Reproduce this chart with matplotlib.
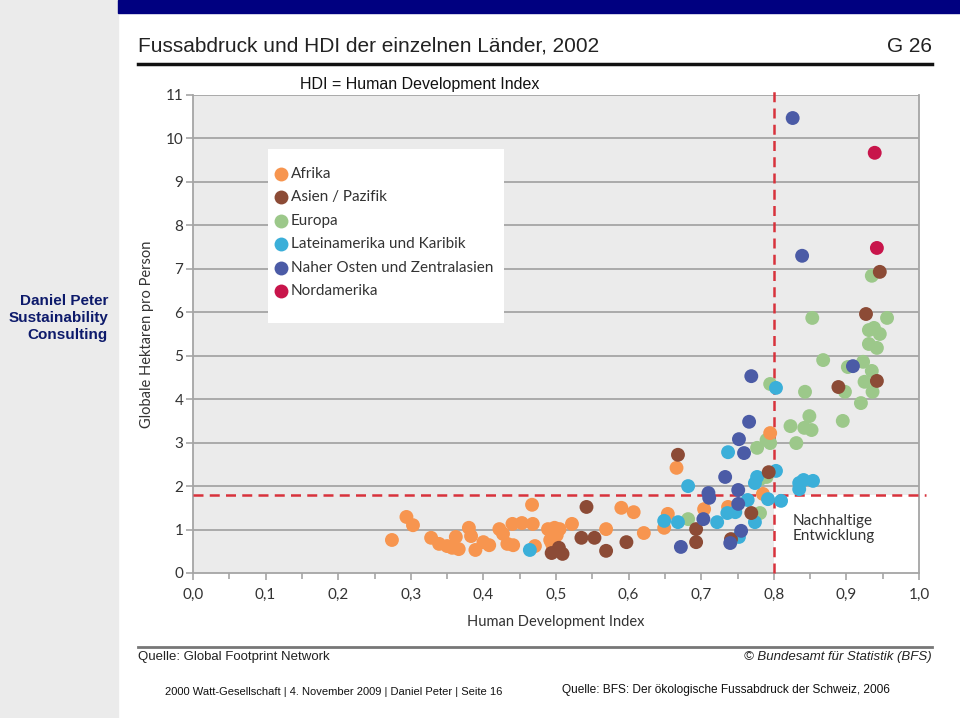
import matplotlib
matplotlib.use("Agg")
from matplotlib import pyplot as plt
from matplotlib.patches import Rectangle
from matplotlib.lines import Line2D

# HDI (x) und Fussabdruck in globalen Hektaren pro Person (y), je Region
afrika_hdi = [0.274, 0.294, 0.303, 0.328, 0.339, 0.350, 0.357, 0.362, 0.366, 0.380,
              0.383, 0.389, 0.400, 0.408, 0.422, 0.427, 0.433, 0.440, 0.441, 0.453,
              0.467, 0.468, 0.471, 0.489, 0.492, 0.496, 0.498, 0.501, 0.505, 0.494,
              0.522, 0.569, 0.590, 0.607, 0.621, 0.649, 0.654, 0.666, 0.704, 0.737,
              0.785, 0.795]
afrika_fp = [0.76, 1.29, 1.10, 0.81, 0.67, 0.62, 0.58, 0.83, 0.55, 1.04,
             0.85, 0.53, 0.71, 0.64, 1.01, 0.90, 0.67, 1.13, 0.64, 1.15,
             1.57, 1.13, 0.62, 1.01, 0.76, 0.58, 1.04, 0.87, 1.01, 0.69,
             1.13, 1.01, 1.50, 1.40, 0.92, 1.04, 1.36, 2.42, 1.47, 1.52,
             1.82, 3.22]

asien_hdi = [0.494, 0.504, 0.509, 0.542, 0.535, 0.553, 0.569, 0.597, 0.668, 0.693,
             0.693, 0.741, 0.769, 0.793, 0.889, 0.942, 0.927, 0.946]
asien_fp = [0.46, 0.58, 0.44, 1.52, 0.81, 0.81, 0.51, 0.71, 2.72, 1.01,
            0.71, 0.78, 1.38, 2.32, 4.28, 4.42, 5.96, 6.93]

europa_hdi = [0.682, 0.781, 0.781, 0.790, 0.777, 0.790, 0.795, 0.795, 0.831, 0.823,
              0.842, 0.852, 0.849, 0.843, 0.895, 0.920, 0.902, 0.923, 0.925, 0.935,
              0.936, 0.898, 0.868, 0.931, 0.942, 0.931, 0.938, 0.946, 0.853, 0.956,
              0.935]
europa_fp = [1.24, 1.38, 2.16, 2.21, 2.88, 3.06, 2.99, 4.35, 2.99, 3.38,
             3.34, 3.29, 3.61, 4.17, 3.50, 3.91, 4.74, 4.86, 4.40, 4.65,
             4.17, 4.17, 4.90, 5.27, 5.18, 5.59, 5.64, 5.50, 5.87, 5.87,
             6.84]

latein_hdi = [0.464, 0.649, 0.668, 0.682, 0.722, 0.736, 0.747, 0.752, 0.737, 0.764,
              0.774, 0.774, 0.777, 0.792, 0.803, 0.810, 0.803, 0.835, 0.841, 0.854,
              0.835]
latein_fp = [0.53, 1.20, 1.17, 2.00, 1.17, 1.38, 1.40, 0.83, 2.78, 1.68,
             2.07, 1.17, 2.21, 1.70, 2.35, 1.66, 4.26, 2.07, 2.14, 2.12,
             1.93]

nahost_hdi = [0.672, 0.703, 0.710, 0.711, 0.733, 0.740, 0.751, 0.751, 0.755, 0.752,
              0.759, 0.766, 0.769, 0.839, 0.826, 0.909]
nahost_fp = [0.60, 1.24, 1.84, 1.73, 2.21, 0.69, 1.91, 1.59, 0.97, 3.08,
             2.76, 3.48, 4.53, 7.30, 10.47, 4.76]

nordam_hdi = [0.939, 0.942]
nordam_fp = [9.67, 7.48]

regionen = ["Afrika", "Asien / Pazifik", "Europa", "Lateinamerika und Karibik",
            "Naher Osten und Zentralasien", "Nordamerika"]
farben = ["#f7954f", "#8c4b36", "#9cc88a", "#3bafd9", "#4b5ba6", "#c8154b"]

x_ticks = [0.0, 0.1, 0.2, 0.3, 0.4, 0.5, 0.6, 0.7, 0.8, 0.9, 1.0]
x_labels = ["0,0", "0,1", "0,2", "0,3", "0,4", "0,5", "0,6", "0,7", "0,8", "0,9", "1,0"]
y_ticks = list(range(0, 12))
hdi_grenze = 0.8
fp_grenze = 1.8

W, H = 960, 718


def fx(px):
    return px / W


def fy(py):
    return 1 - py / H


arial = ["Liberation Sans", "DejaVu Sans"]
chart_font = ["Lato", "DejaVu Sans"]

fig = plt.figure(figsize=(9.6, 7.18), dpi=100)

# Folien-Rahmen
fig.patches.append(Rectangle((0, 0), fx(118), 1, transform=fig.transFigure,
                             color="#ebebeb", zorder=0))
fig.patches.append(Rectangle((fx(118), fy(13)), 1 - fx(118), 13 / H,
                             transform=fig.transFigure, color="#000080", zorder=0))
fig.text(fx(108), fy(318), "Daniel Peter\nSustainability\nConsulting", ha="right", va="center",
         fontsize=11, fontweight="bold", color="#0d1a6b", family=arial, linespacing=1.25)

# Kopf der Grafik
fig.text(fx(138), fy(46), "Fussabdruck und HDI der einzelnen Länder, 2002", ha="left",
         va="center", fontsize=15, color="#222222", family=arial)
fig.text(fx(932), fy(46), "G 26", ha="right", va="center", fontsize=15, color="#222222",
         family=arial)
fig.lines.append(Line2D([fx(138), fx(932)], [fy(64), fy(64)], transform=fig.transFigure,
                        color="#111111", lw=2.5))
fig.text(fx(300), fy(84), "HDI = Human Development Index", ha="left", va="center",
         fontsize=11.5, color="#111111", family=arial)

# Fuss der Grafik
fig.lines.append(Line2D([fx(138), fx(932)], [fy(647), fy(647)], transform=fig.transFigure,
                        color="#777777", lw=2))
fig.text(fx(138), fy(657), "Quelle: Global Footprint Network", ha="left", va="center",
         fontsize=9.5, color="#222222", family=arial)
fig.text(fx(932), fy(657), "© Bundesamt für Statistik (BFS)", ha="right", va="center",
         fontsize=9.5, color="#222222", family=arial, style="italic")
fig.text(fx(165), fy(692), "2000 Watt-Gesellschaft | 4. November 2009 | Daniel Peter | Seite 16",
         ha="left", va="center", fontsize=8, color="#111111", family=arial)
fig.text(fx(562), fy(690), "Quelle: BFS: Der ökologische Fussabdruck der Schweiz, 2006",
         ha="left", va="center", fontsize=8.6, color="#111111", family=arial)

# Diagramm
ax = fig.add_axes([fx(193), fy(573), fx(919) - fx(193), fy(95) - fy(573)])
ax.set_facecolor("#ebebeb")
ax.set_xlim(0, 1)
ax.set_ylim(0, 11)

for y in y_ticks[1:]:
    ax.axhline(y, color="#a5a5a5", lw=1.3, zorder=1)

ax.add_patch(Rectangle((hdi_grenze, 0), 1 - hdi_grenze, fp_grenze, facecolor="white",
                       edgecolor="none", zorder=2))

daten = [(europa_hdi, europa_fp, 2), (afrika_hdi, afrika_fp, 0), (latein_hdi, latein_fp, 3),
         (asien_hdi, asien_fp, 1), (nahost_hdi, nahost_fp, 4), (nordam_hdi, nordam_fp, 5)]
for xs, ys, i in daten:
    ax.scatter(xs, ys, s=100, color=farben[i], edgecolors="none", zorder=4)

ax.plot([hdi_grenze, hdi_grenze], [0, 11.15], color="#d8323c", lw=1.8, ls=(0, (4, 2.5)),
        zorder=3, clip_on=False)
ax.plot([0, 1.01], [fp_grenze, fp_grenze], color="#d8323c", lw=1.8, ls=(0, (4, 2.5)),
        zorder=3, clip_on=False)

ax.text(0.826, 1.02, "Nachhaltige\nEntwicklung", ha="left", va="center", fontsize=11,
        color="#333333", family=chart_font, zorder=5, linespacing=1.1)

# Legende (weisser Kasten mit Punkten)
fig.patches.append(Rectangle((fx(268), fy(323)), fx(504) - fx(268), (323 - 149) / H,
                             transform=fig.transFigure, facecolor="white", edgecolor="none",
                             zorder=5))
for k, (name, c) in enumerate(zip(regionen, farben)):
    yy = fy(174 + 23.4 * k)
    fig.lines.append(Line2D([fx(281)], [yy], transform=fig.transFigure, marker="o", ls="none",
                            markersize=10, markerfacecolor=c, markeredgecolor="none",
                            zorder=6))
    fig.text(fx(291), yy, name, ha="left", va="center", fontsize=11, color="#333333",
             family=chart_font, zorder=6)

# Achsen
ax.spines["top"].set_visible(False)
for s in ["left", "right", "bottom"]:
    ax.spines[s].set_color("#a5a5a5")
    ax.spines[s].set_linewidth(1.3)
ax.set_xticks(x_ticks)
ax.set_xticklabels(x_labels)
ax.set_xticks([0.05 + 0.1 * k for k in range(10)], minor=True)
ax.set_yticks(y_ticks)
ax.tick_params(axis="both", colors="#a5a5a5", labelcolor="#333333", length=5, width=1.2,
               labelsize=11)
ax.tick_params(axis="x", pad=6)
ax.tick_params(axis="y", pad=2)
ax.tick_params(axis="x", which="minor", colors="#a5a5a5", length=4, width=1.2)
for lab in ax.get_xticklabels() + ax.get_yticklabels():
    lab.set_family(chart_font)
ax.set_xlabel("Human Development Index", fontsize=10.5, color="#333333", family=chart_font,
              labelpad=9)
ax.set_ylabel("Globale Hektaren pro Person", fontsize=10.5, color="#333333",
              family=chart_font, labelpad=8)

fig.savefig("out.png", dpi=100)
